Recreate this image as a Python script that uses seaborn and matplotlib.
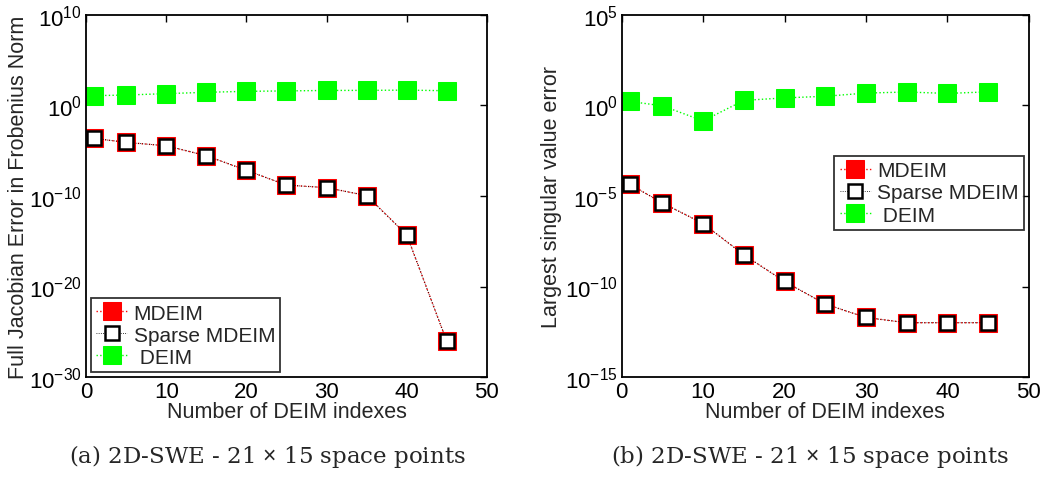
import numpy as np
import pandas as pd
import seaborn as sns
import matplotlib.pyplot as plt
from matplotlib.ticker import NullLocator

# DEIM index counts (shared x)
n_idx = [1, 5, 10, 15, 20, 25, 30, 35, 40, 45]

# (a) full Jacobian error, Frobenius norm
jac_mdeim = [2.3e-4, 8.3e-5, 3.5e-5, 2.8e-6, 6.8e-8, 1.6e-9, 8.3e-10, 1.1e-10, 5.0e-15, 8.5e-27]
jac_sparse = jac_mdeim
jac_deim = [12, 14, 20, 28, 36, 40, 45, 46, 49, 42]

# (b) largest singular value error
sv_mdeim = [4.4e-5, 4.1e-6, 3.0e-7, 5.6e-9, 1.9e-10, 1.07e-11, 1.95e-12, 1.0e-12, 1.0e-12, 1.0e-12]
sv_sparse = sv_mdeim
sv_deim = [1.66, 0.95, 0.14, 1.9, 2.6, 3.2, 4.8, 5.5, 4.6, 5.6]

labels = ['MDEIM', 'Sparse MDEIM', ' DEIM']
captions = [r'(a) 2D-SWE - 21 $\times$ 15 space points',
            r'(b) 2D-SWE - 21 $\times$ 15 space points']

sns.set_style('white')
plt.rcParams['font.family'] = ['Liberation Sans', 'DejaVu Sans']
plt.rcParams['mathtext.fontset'] = 'custom'
plt.rcParams['mathtext.rm'] = 'Liberation Sans'
plt.rcParams['mathtext.it'] = 'Liberation Sans:italic'

fig = plt.figure(figsize=(10.44, 4.81), dpi=100)
ax1 = fig.add_axes([0.0824, 0.214, 0.384, 0.753])
ax2 = fig.add_axes([0.5955, 0.214, 0.390, 0.753])


def draw(ax, mdeim, sparse, deim):
    sns.lineplot(x=n_idx, y=mdeim, ax=ax, color='red', linestyle=':', lw=1.0,
                 marker='s', markersize=13, markerfacecolor='red',
                 markeredgecolor='red', label=labels[0])
    sns.lineplot(x=n_idx, y=sparse, ax=ax, color='black', linestyle=':', lw=0.6,
                 marker='s', markersize=10, markerfacecolor='white',
                 markeredgecolor='black', markeredgewidth=1.8, label=labels[1])
    sns.lineplot(x=n_idx, y=deim, ax=ax, color='#00ff00', linestyle=':', lw=1.0,
                 marker='s', markersize=13, markerfacecolor='#00ff00',
                 markeredgecolor='#00ff00', label=labels[2])


draw(ax1, jac_mdeim, jac_sparse, jac_deim)
draw(ax2, sv_mdeim, sv_sparse, sv_deim)

for ax, (lo, hi, step) in zip([ax1, ax2], [(-30, 10, 10), (-15, 5, 5)]):
    ax.set_yscale('log')
    ax.set_ylim(10.0 ** lo, 10.0 ** hi)
    ax.set_yticks([10.0 ** k for k in range(lo, hi + 1, step)])
    ax.yaxis.set_minor_locator(NullLocator())
    ax.set_xlim(0, 50)
    ax.set_xticks(range(0, 51, 10))
    ax.tick_params(direction='in', length=5, width=1.0, top=True, right=True,
                   labelsize=16, pad=3, colors='black')
    for s in ax.spines.values():
        s.set_linewidth(1.3)
        s.set_color('black')
    ax.set_xlabel('Number of DEIM indexes', fontsize=15.5, labelpad=-1)

ax1.set_ylabel('Full Jacobian Error in Frobenius Norm', fontsize=15.5, labelpad=0)
ax2.set_ylabel('Largest singular value error', fontsize=15.5, labelpad=2)

leg_kw = dict(fontsize=15, frameon=True, fancybox=False, edgecolor='black',
              handlelength=1.5, handletextpad=0.3, borderpad=0.25,
              labelspacing=0.15, borderaxespad=0.0)
l1 = ax1.legend(loc='lower left', bbox_to_anchor=(0.012, 0.014), **leg_kw)
l2 = ax2.legend(loc='upper right', bbox_to_anchor=(0.988, 0.61), **leg_kw)
for l in (l1, l2):
    l.get_frame().set_linewidth(1.3)

for x, cap in zip([0.256, 0.776], captions):
    fig.text(x, 0.05, cap, ha='center', va='center',
             fontsize=16.5, family='DejaVu Serif')

fig.savefig('out.png', dpi=100)
